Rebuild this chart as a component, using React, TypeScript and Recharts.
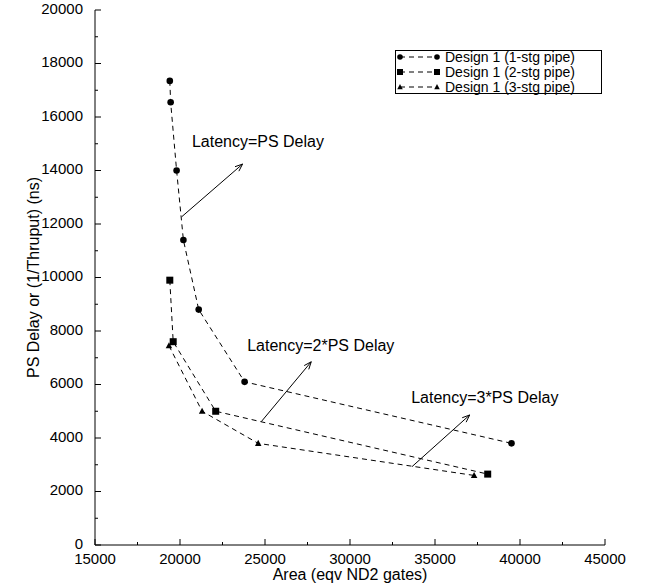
import React from 'react';
import { Legend, ReferenceDot, ReferenceLine, Scatter, ScatterChart, XAxis, YAxis } from 'recharts';

// Area (eqv ND2 gates) vs PS delay (ns), one list per pipeline depth
const AREA_1STG = [19400, 19450, 19800, 20200, 21100, 23800, 39500];
const DELAY_1STG = [17350, 16550, 14000, 11400, 8800, 6100, 3800];
const AREA_2STG = [19400, 19600, 22100, 38100];
const DELAY_2STG = [9900, 7600, 5000, 2650];
const AREA_3STG = [19350, 21300, 24600, 37300];
const DELAY_3STG = [7450, 5000, 3800, 2600];

const SERIES_NAMES = ['Design 1 (1-stg pipe)', 'Design 1 (2-stg pipe)', 'Design 1 (3-stg pipe)'];

// major + minor ticks (gnuplot style)
const X_TICKS = [15000, 17500, 20000, 22500, 25000, 27500, 30000, 32500, 35000, 37500, 40000, 42500, 45000];
const Y_TICKS = [0, 1000, 2000, 3000, 4000, 5000, 6000, 7000, 8000, 9000, 10000, 11000, 12000, 13000, 14000, 15000, 16000, 17000, 18000, 19000, 20000];

const X_TITLE = 'Area (eqv ND2 gates)';
const Y_TITLE = 'PS Delay or (1/Thruput) (ns)';

// annotations, in data units
const LATENCY_LABELS = ['Latency=PS Delay', 'Latency=2*PS Delay', 'Latency=3*PS Delay'];
const LABEL_AT = [[20700, 15080], [23950, 7440], [33600, 5500]];
const ARROW_FROM = [[20100, 12270], [24780, 4610], [33650, 2930]];
const ARROW_TO = [[23680, 14240], [27720, 6850], [37040, 4860]];

const FONT = '"Liberation Sans", Arial, Helvetica, sans-serif';
const INK = '#000';
const DASH = '5 4';

const toPoints = (xs: number[], ys: number[]) => xs.map((area, i) => ({ area, delay: ys[i] }));
const stage1 = toPoints(AREA_1STG, DELAY_1STG);
const stage2 = toPoints(AREA_2STG, DELAY_2STG);
const stage3 = toPoints(AREA_3STG, DELAY_3STG);

const Circle = ({ cx, cy, r = 3.3 }: any) => <circle cx={cx} cy={cy} r={r} fill={INK} />;
const Square = ({ cx, cy, s = 7 }: any) => <rect x={cx - s / 2} y={cy - s / 2} width={s} height={s} fill={INK} />;
const Triangle = ({ cx, cy, s = 6.5 }: any) => (
  <polygon
    points={`${cx},${cy - s * 0.55} ${cx - s / 2},${cy + s * 0.4} ${cx + s / 2},${cy + s * 0.4}`}
    fill={INK}
  />
);
const MARKERS = [Circle, Square, Triangle];

const isMajorX = (v: number) => v % 5000 === 0;
const isMajorY = (v: number) => v % 2000 === 0;

function BottomTick({ x, y, payload }: any) {
  const major = isMajorX(payload.value);
  return (
    <g>
      <line x1={x} y1={y} x2={x} y2={y - (major ? 6 : 3)} stroke={INK} />
      {major && (
        <text x={x} y={y + 19} textAnchor="middle" fontSize={15} fontFamily={FONT} fill={INK}>
          {payload.value}
        </text>
      )}
    </g>
  );
}

function TopTick({ x, y, payload }: any) {
  return <line x1={x} y1={y} x2={x} y2={y + (isMajorX(payload.value) ? 6 : 3)} stroke={INK} />;
}

function LeftTick({ x, y, payload }: any) {
  const major = isMajorY(payload.value);
  return (
    <g>
      <line x1={x} y1={y} x2={x + (major ? 6 : 3)} y2={y} stroke={INK} />
      {major && (
        <text x={x - 12} y={y + 3.5} textAnchor="end" fontSize={15} fontFamily={FONT} fill={INK}>
          {payload.value}
        </text>
      )}
    </g>
  );
}

function RightTick({ x, y, payload }: any) {
  return <line x1={x} y1={y} x2={x - (isMajorY(payload.value) ? 6 : 3)} y2={y} stroke={INK} />;
}

function XTitle({ viewBox }: any) {
  return (
    <text x={viewBox.x + viewBox.width / 2} y={viewBox.y + 35} textAnchor="middle" fontSize={16} fontFamily={FONT} fill={INK}>
      {X_TITLE}
    </text>
  );
}

function YTitle({ viewBox }: any) {
  const cx = viewBox.x + 39;
  const cy = viewBox.y + viewBox.height / 2;
  return (
    <text transform={`translate(${cx},${cy}) rotate(-90)`} textAnchor="middle" fontSize={16} fontFamily={FONT} fill={INK}>
      {Y_TITLE}
    </text>
  );
}

function Arrow({ x1, y1, x2, y2 }: any) {
  const ang = Math.atan2(y2 - y1, x2 - x1);
  const len = 8;
  const spread = 0.38;
  const a = [x2 - len * Math.cos(ang - spread), y2 - len * Math.sin(ang - spread)];
  const b = [x2 - len * Math.cos(ang + spread), y2 - len * Math.sin(ang + spread)];
  return (
    <g>
      <line x1={x1} y1={y1} x2={x2} y2={y2} stroke={INK} strokeWidth={1} />
      <polyline points={`${a[0]},${a[1]} ${x2},${y2} ${b[0]},${b[1]}`} fill="none" stroke={INK} strokeWidth={1} />
    </g>
  );
}

function LegendBox() {
  return (
    <svg width={208} height={45} style={{ display: 'block', overflow: 'visible' }}>
      <rect x={0.5} y={0.5} width={206} height={43} fill="#fff" stroke={INK} />
      {SERIES_NAMES.map((name, i) => {
        const cy = 7 + i * 15;
        const Marker = MARKERS[i];
        return (
          <g key={name}>
            <line x1={5} y1={cy} x2={42} y2={cy} stroke={INK} strokeDasharray={DASH} />
            <Marker cx={5} cy={cy} r={2.8} s={i === 1 ? 6 : 5.5} />
            <Marker cx={42} cy={cy} r={2.8} s={i === 1 ? 6 : 5.5} />
            <text x={50} y={cy + 5} fontSize={14} fontFamily={FONT} fill={INK}>
              {name}
            </text>
          </g>
        );
      })}
    </svg>
  );
}

export default function App() {
  const lineStyle = { stroke: INK, strokeWidth: 1, strokeDasharray: DASH };
  return (
    <div style={{ position: 'absolute', left: 0, top: 0, background: '#fff' }}>
      <ScatterChart width={646} height={583} margin={{ top: 10, right: 41, bottom: 0, left: 0 }}>
        <XAxis
          dataKey="area"
          type="number"
          domain={[15000, 45000]}
          ticks={X_TICKS}
          interval={0}
          tick={<BottomTick />}
          tickLine={false}
          tickSize={0}
          tickMargin={0}
          height={38}
          axisLine={{ stroke: INK }}
          label={<XTitle />}
        />
        <XAxis
          xAxisId="top"
          orientation="top"
          type="number"
          domain={[15000, 45000]}
          ticks={X_TICKS}
          interval={0}
          tick={<TopTick />}
          tickLine={false}
          tickSize={0}
          tickMargin={0}
          height={0}
          axisLine={{ stroke: INK }}
        />
        <YAxis
          dataKey="delay"
          type="number"
          domain={[0, 20000]}
          ticks={Y_TICKS}
          interval={0}
          tick={<LeftTick />}
          tickLine={false}
          tickSize={0}
          tickMargin={0}
          width={95}
          axisLine={{ stroke: INK }}
          label={<YTitle />}
        />
        <YAxis
          yAxisId="right"
          orientation="right"
          type="number"
          domain={[0, 20000]}
          ticks={Y_TICKS}
          interval={0}
          tick={<RightTick />}
          tickLine={false}
          tickSize={0}
          tickMargin={0}
          width={0}
          axisLine={{ stroke: INK }}
        />
        {LATENCY_LABELS.map((text, i) => (
          <ReferenceDot
            key={text}
            x={LABEL_AT[i][0]}
            y={LABEL_AT[i][1]}
            r={0}
            shape={(p: any) => (
              <text x={p.cx} y={p.cy + 5.5} fontSize={16} fontFamily={FONT} fill={INK}>
                {text}
              </text>
            )}
          />
        ))}
        {ARROW_FROM.map((from, i) => (
          <ReferenceLine
            key={i}
            segment={[
              { x: from[0], y: from[1] },
              { x: ARROW_TO[i][0], y: ARROW_TO[i][1] },
            ]}
            shape={(p: any) => <Arrow {...p} />}
          />
        ))}
        <Scatter name={SERIES_NAMES[0]} data={stage1} fill={INK} line={lineStyle} shape={<Circle />} isAnimationActive={false} />
        <Scatter name={SERIES_NAMES[1]} data={stage2} fill={INK} line={lineStyle} shape={<Square />} isAnimationActive={false} />
        <Scatter name={SERIES_NAMES[2]} data={stage3} fill={INK} line={lineStyle} shape={<Triangle />} isAnimationActive={false} />
        <Legend
          layout="vertical"
          align="center"
          verticalAlign="middle"
          content={<LegendBox />}
          wrapperStyle={{ left: 395, top: 50, width: 208, height: 45 }}
        />
      </ScatterChart>
    </div>
  );
}
